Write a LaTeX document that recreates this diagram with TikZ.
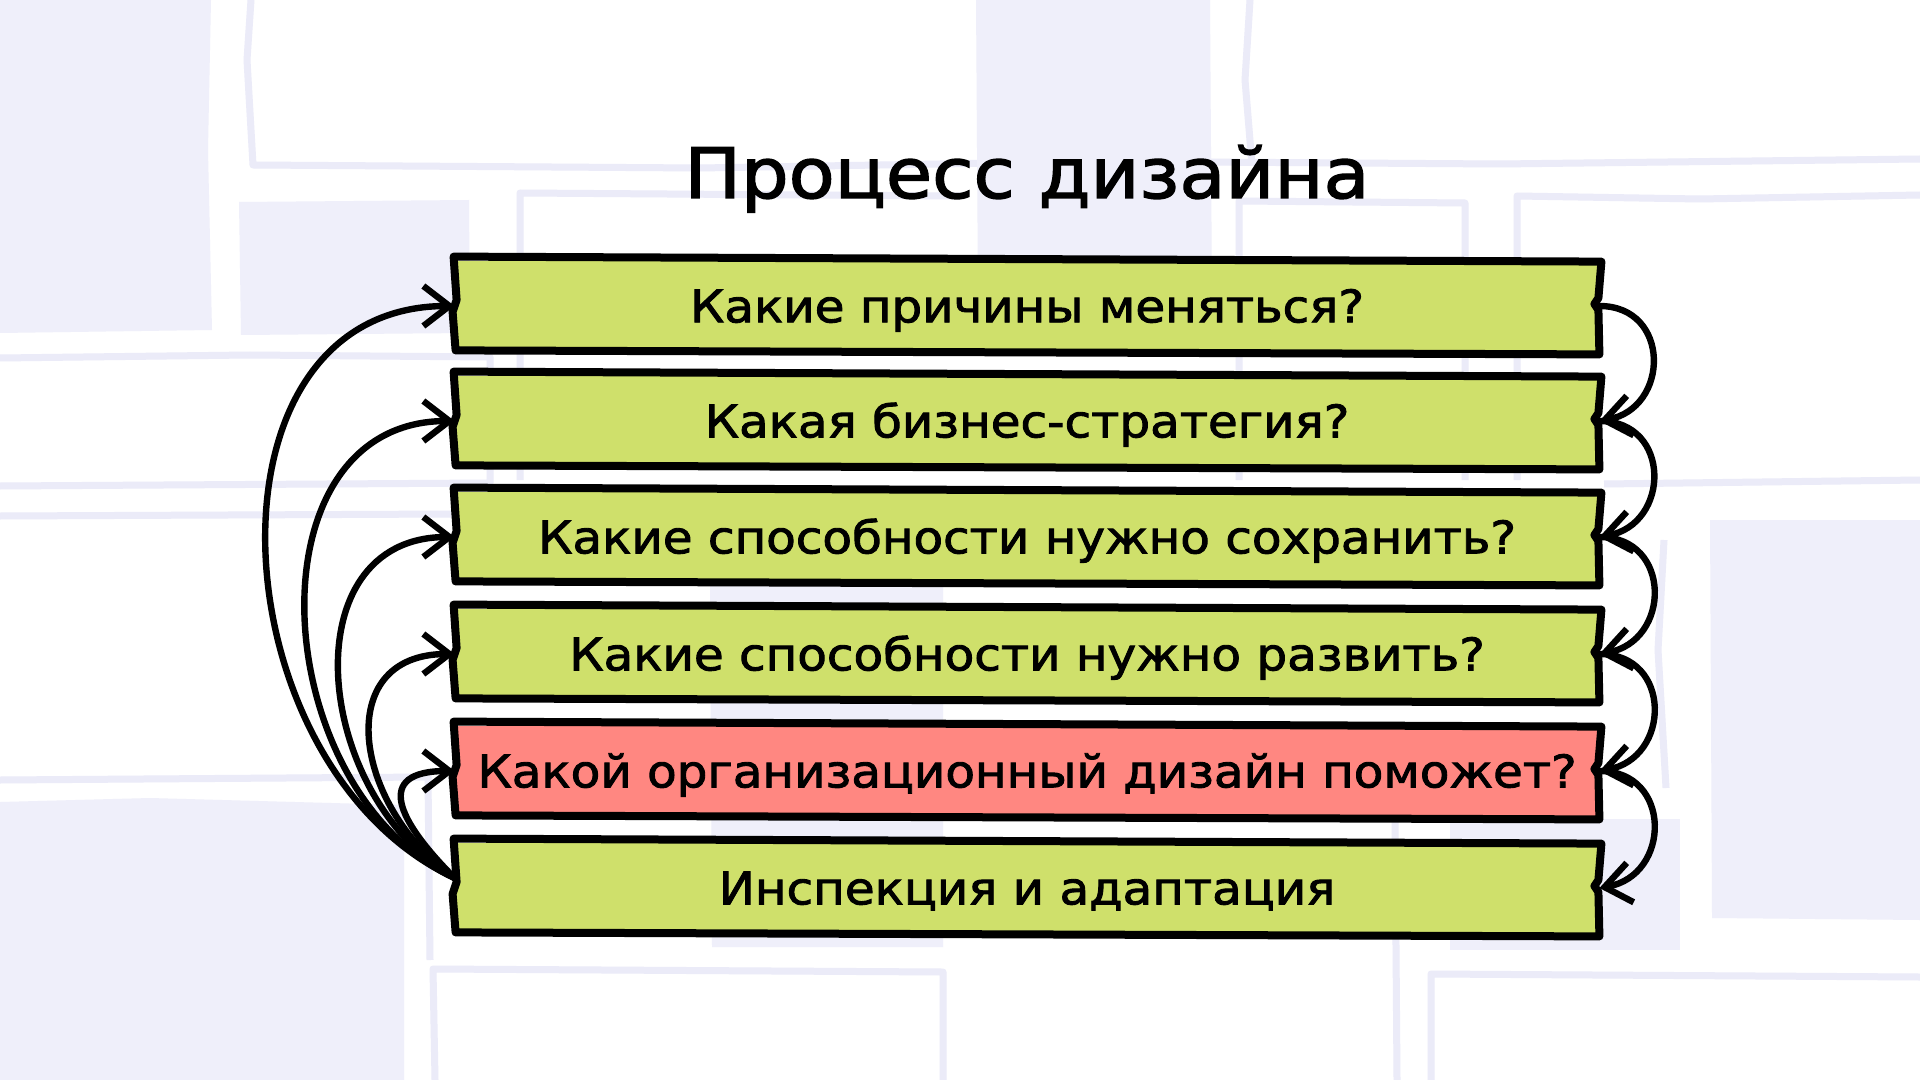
\documentclass[tikz,border=0pt]{standalone}
\usepackage{fontspec}
\setmainfont{DejaVu Sans}[FakeStretch=1.08, FakeBold=2]
\usetikzlibrary{arrows.meta}
\definecolor{lime}{HTML}{CFE06B}
\definecolor{salmon}{HTML}{FF8781}
\definecolor{bgfill}{HTML}{EFEFFA}
\definecolor{bgline}{HTML}{EBEBF8}
\tikzset{
  qbox/.style={rectangle, fill=lime, minimum width=572pt, minimum height=45pt,
    inner sep=0pt, text height=16.3pt, text depth=0pt,
    font=\fontsize{22.4}{27}\selectfont},
  boxline/.style={line width=4pt, line join=round, black},
  arr/.style={line width=3.2pt, line cap=round, black,
    -{Straight Barb[length=13pt,width=20pt,line width=3.2pt]}},
  bgl/.style={bgline, line width=3.5pt, line join=round},
}
\newcommand\skbox[1]{%
  \draw[boxline] ([shift={(-1,-4)}]#1.north west) -- ([shift={(2,1)}]#1.north east)
    -- ([shift={(-1,-8)}]#1.east) -- ([shift={(-5,-2)}]#1.east) -- ([shift={(-1,4)}]#1.east)
    -- ([shift={(0,3)}]#1.south east) -- ([shift={(1,-1)}]#1.south west)
    -- ([shift={(-2,6)}]#1.west) -- ([shift={(2,-6)}]#1.west) -- cycle;}
\begin{document}
\begin{tikzpicture}[x=0.5pt,y=-0.5pt]
\useasboundingbox (0,0) rectangle (1920,1080);
\fill[white] (0,0) rectangle (1920,1080);
% background decoration
\draw[bgl] (251,0) -- (247,60) -- (253,165) -- (700,168) -- (1000,163);
\draw[bgl] (1200,162) -- (1500,164) -- (1920,159);
\draw[bgl] (1250,0) -- (1245,80) -- (1252,165);
\draw[bgl] (1239,480) -- (1239,201) -- (1465,203) -- (1465,480);
\draw[bgl] (520,480) -- (520,193) -- (960,196);
\draw[bgl] (1517,480) -- (1517,196) -- (1700,199) -- (1920,195);
\draw[bgl] (0,358) -- (250,355) -- (490,357) -- (490,483) -- (0,486);
\draw[bgl] (0,516) -- (455,514);
\draw[bgl] (0,780) -- (428,777) -- (430,960);
\draw[bgl] (435,1080) -- (433,969) -- (943,972) -- (943,1080);
\draw[bgl] (1431,1080) -- (1431,974) -- (1920,977);
\draw[bgl] (1395,816) -- (1397,1080);
\draw[bgl] (1664,540) -- (1658,650) -- (1666,788);
\draw[bgl] (1604,484) -- (1920,480);
\fill[bgfill] (0,0) -- (211,0) -- (208,150) -- (212,330) -- (0,333) -- cycle;
\fill[bgfill] (239,202) -- (469,200) -- (470,333) -- (241,335) -- cycle;
\fill[bgfill] (976,0) -- (1210,0) -- (1212,300) -- (978,300) -- cycle;
\fill[bgfill] (710,585) -- (943,585) -- (943,947) -- (712,947) -- cycle;
\fill[bgfill] (0,802) -- (150,798) -- (404,805) -- (404,1080) -- (0,1080) -- cycle;
\fill[bgfill] (1450,819) -- (1680,819) -- (1680,950) -- (1450,950) -- cycle;
\fill[bgfill] (1710,520) -- (1920,520) -- (1920,920) -- (1712,918) -- cycle;
% title
\node[anchor=base, font=\fontsize{34.8}{40}\selectfont] (title) at (1027,198) {Процесс дизайна};
% boxes
\node[qbox] (b1) at (1027,306) {Какие причины меняться?};
\node[qbox] (b2) at (1027,421) {Какая бизнес-стратегия?};
\node[qbox] (b3) at (1027,537) {Какие способности нужно сохранить?};
\node[qbox] (b4) at (1027,654) {Какие способности нужно развить?};
\node[qbox, fill=salmon] (b5) at (1027,771) {Какой организационный дизайн поможет?};
\node[qbox] (b6) at (1027,888) {Инспекция и адаптация};
\foreach \n in {b1,b2,b3,b4,b5,b6} {\skbox{\n}}
% right arrows
\draw[arr] (b1.east) to[out=0, in=10, looseness=1.6] (b2.east);
\draw[arr] (b2.east) to[out=0, in=10, looseness=1.6] (b3.east);
\draw[arr] (b3.east) to[out=0, in=10, looseness=1.6] (b4.east);
\draw[arr] (b4.east) to[out=0, in=10, looseness=1.6] (b5.east);
\draw[arr] (b5.east) to[out=0, in=10, looseness=1.6] (b6.east);
% left arrows
\draw[arr] ([shift={(0,-10)}]b6.west) to[out=155, in=180, looseness=1.18] (b1.west);
\draw[arr] ([shift={(0,-10)}]b6.west) to[out=155, in=180, looseness=1.17] (b2.west);
\draw[arr] ([shift={(0,-10)}]b6.west) to[out=150, in=180, looseness=1.24] (b3.west);
\draw[arr] ([shift={(0,-10)}]b6.west) to[out=145, in=180, looseness=1.42] (b4.west);
\draw[arr] ([shift={(0,-10)}]b6.west) to[out=135, in=180, looseness=1.95] (b5.west);
\end{tikzpicture}
\end{document}
